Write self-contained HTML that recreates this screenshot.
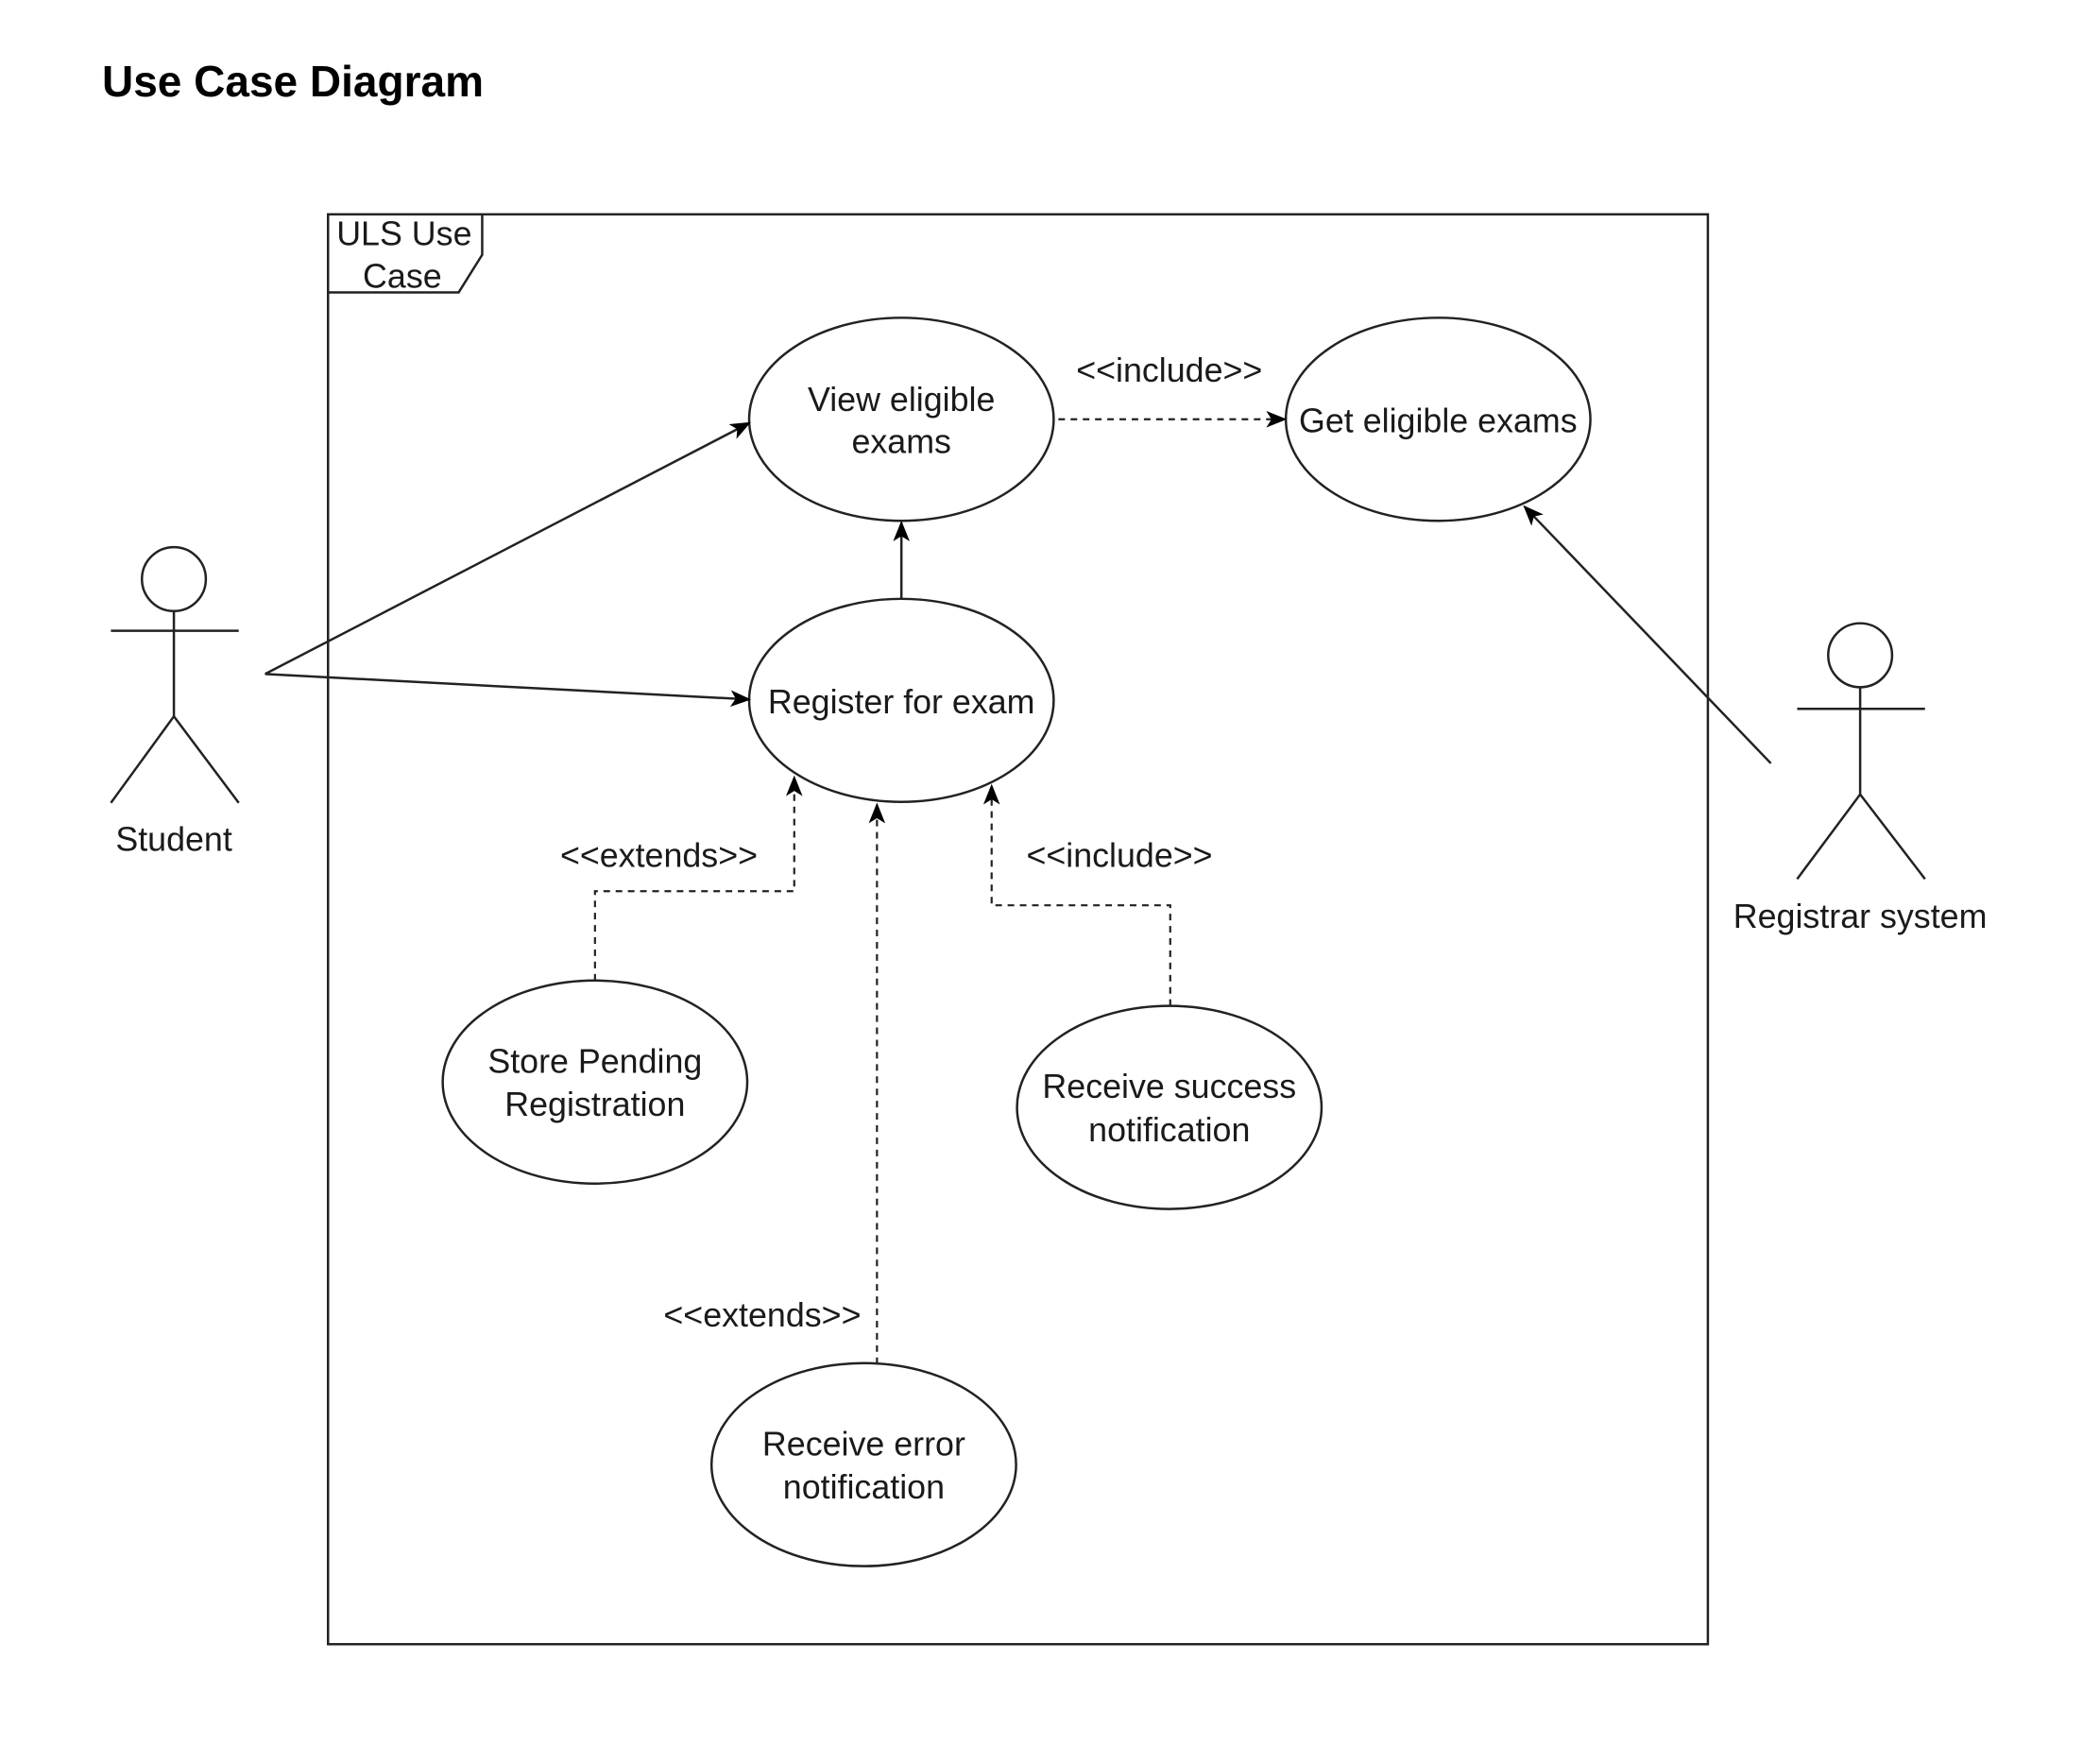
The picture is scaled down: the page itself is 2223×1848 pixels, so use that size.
<!DOCTYPE html>
<html><head><meta charset="utf-8"><style>
html,body{margin:0;padding:0;background:#fff;}
svg{display:block;}
text{font-family:"Liberation Sans",Arial,sans-serif;fill:#1a1a1a;}
</style></head><body>
<svg width="2223" height="1848" viewBox="0 0 2223 1848" xmlns="http://www.w3.org/2000/svg">
<defs>
<marker id="a" viewBox="0 0 20 20" refX="18" refY="10" markerWidth="22" markerHeight="22" orient="auto" markerUnits="userSpaceOnUse">
<path d="M0,2 L20,10 L0,18 L5,10 Z" fill="#000"/>
</marker>
</defs>
<text x="108" y="102" font-size="46" font-weight="bold" style="fill:#000">Use Case Diagram</text>
<g transform="scale(0.995)">
<g fill="none" stroke="#222" stroke-width="2.5">
<rect x="349" y="228" width="1468" height="1521"/>
<path d="M349,311 L488,311 L513,271 L513,228"/>
<ellipse cx="959" cy="446" rx="162" ry="108"/>
<ellipse cx="1530" cy="446" rx="162" ry="108"/>
<ellipse cx="959" cy="745" rx="162" ry="108"/>
<ellipse cx="633" cy="1151" rx="162" ry="108"/>
<ellipse cx="1244" cy="1178" rx="162" ry="108"/>
<ellipse cx="919" cy="1558" rx="162" ry="108"/>
<circle cx="185" cy="616" r="34"/>
<line x1="118" y1="671" x2="254" y2="671"/>
<line x1="185" y1="650" x2="185" y2="762"/>
<path d="M118,854 L185,762 L254,854"/>
<circle cx="1979" cy="697" r="34"/>
<line x1="1912" y1="754" x2="2048" y2="754"/>
<line x1="1979" y1="731" x2="1979" y2="845"/>
<path d="M1912,935 L1979,845 L2048,935"/>
<line x1="282" y1="717" x2="797" y2="450" marker-end="url(#a)"/>
<line x1="282" y1="717" x2="797" y2="744" marker-end="url(#a)"/>
<line x1="959" y1="637" x2="959" y2="556" marker-end="url(#a)"/>
<line x1="1884" y1="812" x2="1622" y2="539" marker-end="url(#a)"/>
</g>
<g fill="none" stroke="#222" stroke-width="2.2" stroke-dasharray="7,6">
<line x1="1126" y1="446" x2="1367" y2="446" marker-end="url(#a)"/>
<path d="M633,1043 L633,948 L845,948 L845,827" marker-end="url(#a)"/>
<line x1="933" y1="1451" x2="933" y2="856" marker-end="url(#a)"/>
<path d="M1245,1070 L1245,963 L1055,963 L1055,836" marker-end="url(#a)"/>
</g>
<g font-size="36" text-anchor="middle">
<text x="430" y="261">ULS Use</text>
<text x="428" y="306">Case</text>
<text x="959" y="437">View eligible</text>
<text x="959" y="482">exams</text>
<text x="1530" y="460">Get eligible exams</text>
<text x="959" y="759">Register for exam</text>
<text x="633" y="1141">Store Pending</text>
<text x="633" y="1187">Registration</text>
<text x="1244" y="1168">Receive success</text>
<text x="1244" y="1214">notification</text>
<text x="919" y="1548">Receive error</text>
<text x="919" y="1594">notification</text>
<text x="1244" y="406">&lt;&lt;include&gt;&gt;</text>
<text x="701" y="922">&lt;&lt;extends&gt;&gt;</text>
<text x="1191" y="922">&lt;&lt;include&gt;&gt;</text>
<text x="811" y="1411">&lt;&lt;extends&gt;&gt;</text>
<text x="185" y="905">Student</text>
<text x="1979" y="987">Registrar system</text>
</g>
</g>
</svg>
</body></html>
